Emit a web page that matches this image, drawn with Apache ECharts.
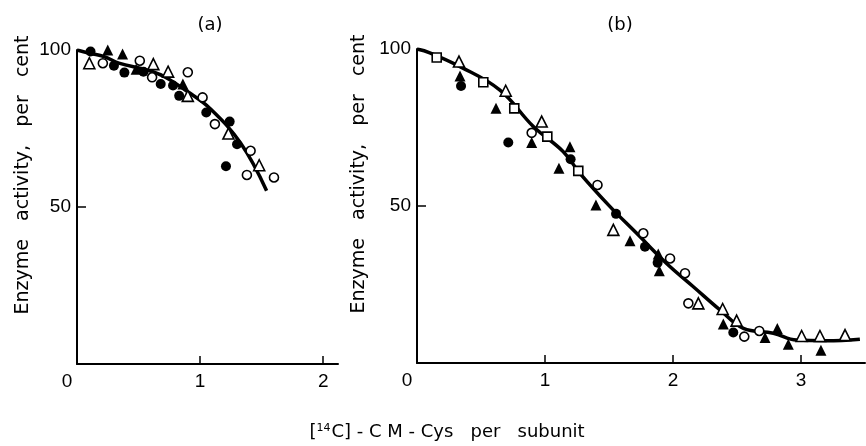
<!DOCTYPE html>
<html><head><meta charset="utf-8">
<script src="https://cdn.jsdelivr.net/npm/echarts@6/dist/echarts.min.js"></script>
<style>html,body{margin:0;padding:0;background:#fff}#c{width:866px;height:446px}</style>
</head><body><div id="c"></div>
<script>
// ---- Panel (a) data ----
const aCurve = [[0,100],[0.11,98.9],[0.22,97.9],[0.34,95.8],[0.57,93.6],[0.71,91.5],[0.90,86.7],[1.08,81.4],[1.33,70.3],[1.54,55.2]];
const aFilledCircle = [[0.11,99.5],[0.30,95.0],[0.385,92.8],[0.54,93.1],[0.68,89.2],[0.78,88.7],[0.83,85.4],[1.05,80.1],[1.24,77.2],[1.30,70.0],[1.21,63.0]];
const aFilledTriangle = [[0.25,100],[0.37,98.7],[0.48,93.9],[0.86,89.2]];
const aOpenTriangle = [[0.10,95.8],[0.62,95.5],[0.74,93.1],[0.90,85.4],[1.23,73.4],[1.48,63.3]];
const aOpenCircle = [[0.21,95.8],[0.51,96.6],[0.61,91.3],[0.90,92.9],[1.02,84.9],[1.12,76.4],[1.41,67.9],[1.38,60.2],[1.60,59.4]];
// ---- Panel (b) data ----
const bCurve = [[0,100],[0.10,98.8],[0.336,94.4],[0.648,86.9],[0.909,75.3],[1.143,67.3],[1.273,60.4],[1.508,49.8],[1.716,41.3],[1.95,31.7],[2.159,24.3],[2.367,16.9],[2.55,11.0],[2.784,9.5],[2.966,7.3],[3.2,7.1],[3.46,7.6]];
const bOpenSquare = [[0.154,97.3],[0.518,89.4],[0.76,81.1],[1.018,72.1],[1.26,61.2]];
const bOpenTriangle = [[0.328,96.0],[0.693,86.7],[0.974,76.9],[1.534,42.4],[2.198,19.0],[2.388,17.2],[2.497,13.5],[3.005,8.6],[3.148,8.6],[3.344,8.9]];
const bFilledTriangle = [[0.336,91.4],[0.617,81.1],[0.896,70.2],[1.195,68.9],[1.109,62.0],[1.398,50.3],[1.664,38.9],[1.885,34.7],[1.893,29.4],[2.393,12.4],[2.719,8.1],[2.815,11.0],[2.901,6.0],[3.156,4.1]];
const bFilledCircle = [[0.344,88.2],[0.713,70.2],[1.20,64.9],[1.555,47.5],[1.781,37.0],[1.88,31.9],[2.471,9.7]];
const bOpenCircle = [[0.896,73.3],[1.41,56.7],[1.768,41.3],[1.977,33.3],[2.094,28.6],[2.12,19.0],[2.557,8.4],[2.674,10.2]];
// ---- axes / text ----
const aXTicks = [0,1,2];
const bXTicks = [0,1,2,3];
const yTicks = [0,50,100];
const panelTitles = ['(a)','(b)'];
const yName = 'Enzyme   activity,   per   cent';

const FONT = 'DejaVu Sans';
const NUMFONT = '"Liberation Sans Narrow", "Liberation Sans", sans-serif';
const chart = echarts.init(document.getElementById('c'));

function xAxis(grid, max, ticks){
  return {type:'value', gridIndex:grid, min:0, max:max,
    axisLine:{show:true, onZero:false, lineStyle:{color:'#000', width:2}},
    axisTick:{show:true, inside:true, length:8, customValues:ticks.filter(v=>v>0), lineStyle:{color:'#000', width:1.5}},
    axisLabel:{customValues:ticks, color:'#000', fontFamily:NUMFONT, fontSize:19, margin:8,
      formatter:v=> v===0 ? '{z|0}' : String(v), rich:{z:{padding:[0,20,0,0], fontFamily:NUMFONT, fontSize:19, color:'#000'}}},
    splitLine:{show:false}};
}
function yAxis(grid){
  return {type:'value', gridIndex:grid, min:0, max:100,
    axisLine:{show:true, onZero:false, lineStyle:{color:'#000', width:2}},
    axisTick:{show:true, inside:true, length:9, customValues:[50], lineStyle:{color:'#000', width:1.5}},
    axisLabel:{customValues:yTicks.filter(v=>v>0), color:'#000', fontFamily:NUMFONT, fontSize:19, margin:6},
    splitLine:{show:false},
    name:yName, nameLocation:'middle', nameGap:44, nameRotate:90,
    nameTextStyle:{color:'#000', fontFamily:FONT, fontSize:19, padding:[0,0,0,64]}};
}
function line(data, xi){
  return {type:'line', xAxisIndex:xi, yAxisIndex:xi, data:data, smooth:0.4, showSymbol:false, symbol:'none',
    lineStyle:{color:'#000', width:3.5}, z:1, silent:true};
}
function sc(data, xi, symbol, filled, size){
  return {type:'scatter', xAxisIndex:xi, yAxisIndex:xi, data:data, symbol:symbol, symbolSize:size,
    itemStyle:{color: filled ? '#000' : '#fff', borderColor:'#000', borderWidth: filled ? 0 : 1.6, opacity:1}, z:3};
}

chart.setOption({
  animation:false,
  backgroundColor:'#fff',
  title:[
    {text:panelTitles[0], left:205, top:11, textAlign:'center', textStyle:{fontFamily:FONT, fontSize:18, fontWeight:'normal', color:'#000'}},
    {text:panelTitles[1], left:615, top:11, textAlign:'center', textStyle:{fontFamily:FONT, fontSize:18, fontWeight:'normal', color:'#000'}},
    {text:'[{s|14}C] - C M - Cys   per   subunit', left:442, top:418, textAlign:'center',
      textStyle:{fontFamily:FONT, fontSize:18, fontWeight:'normal', color:'#000',
        rich:{s:{fontFamily:FONT, fontSize:11, verticalAlign:'top', padding:[0,1,8,0], color:'#000'}}}}
  ],
  grid:[
    {left:77, top:50, width:261, height:314},
    {left:417, top:49, width:448, height:314}
  ],
  xAxis:[xAxis(0, 2.12, aXTicks), xAxis(1, 3.5, bXTicks)],
  yAxis:[yAxis(0), yAxis(1)],
  series:[
    line(aCurve,0),
    sc(aFilledCircle,0,'circle',true,10),
    sc(aFilledTriangle,0,'triangle',true,11),
    sc(aOpenTriangle,0,'triangle',false,11),
    sc(aOpenCircle,0,'circle',false,9),
    line(bCurve,1),
    sc(bOpenSquare,1,'rect',false,9),
    sc(bOpenTriangle,1,'triangle',false,11),
    sc(bFilledTriangle,1,'triangle',true,11),
    sc(bFilledCircle,1,'circle',true,10),
    sc(bOpenCircle,1,'circle',false,9)
  ]
});
</script></body></html>
